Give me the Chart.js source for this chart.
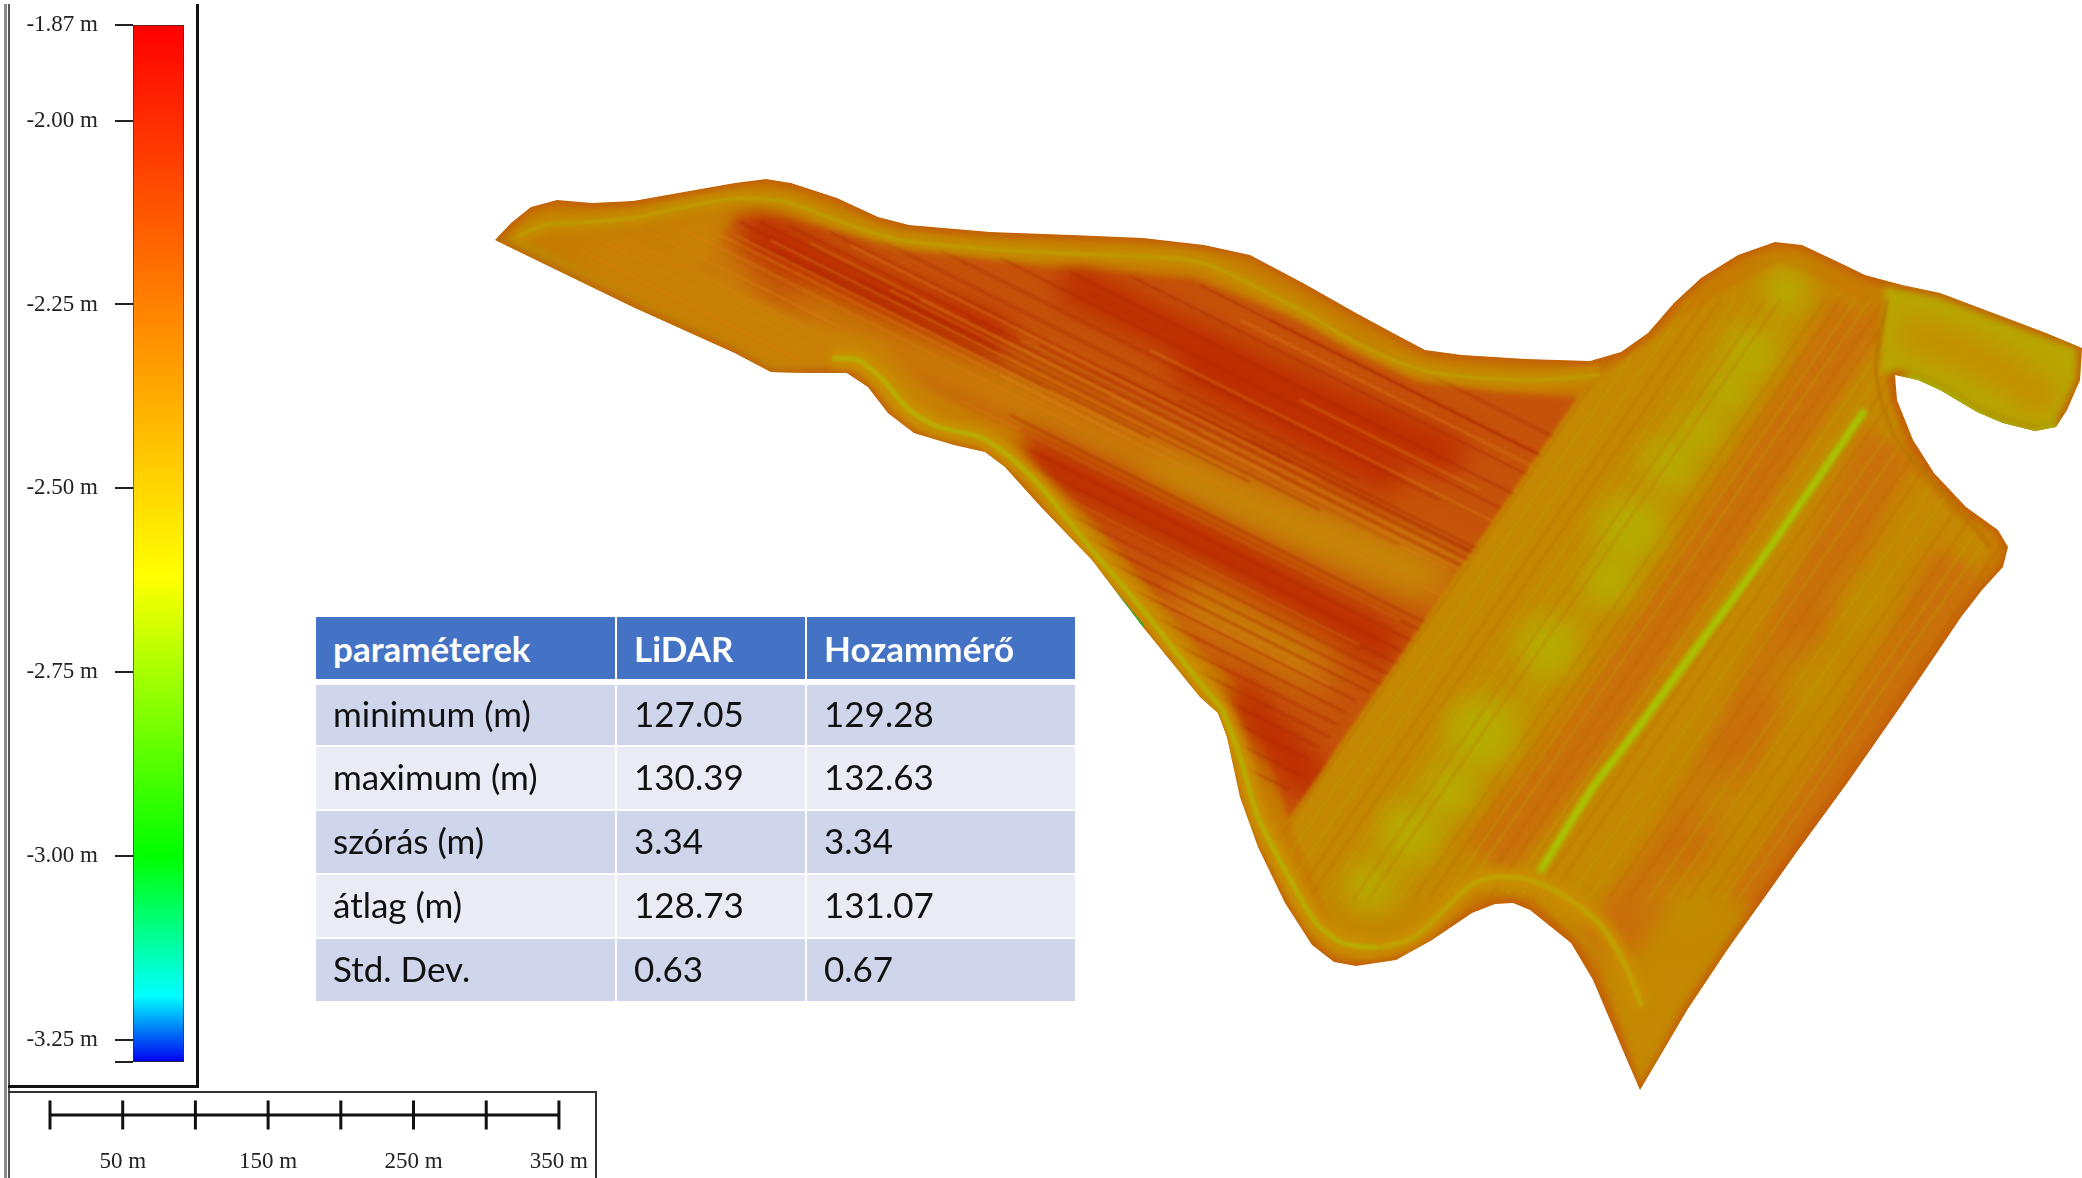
<!DOCTYPE html>
<html>
<head>
<meta charset="utf-8">
<title>LiDAR</title>
<script src="https://cdn.jsdelivr.net/npm/chart.js@4"></script>
<style>
html, body { margin: 0; padding: 0; background: #fff; overflow: hidden; }
body { position: relative; width: 2082px; height: 1178px; }
canvas { position: absolute; }
.line { position: absolute; }
#tabla { position: absolute; left: 314px; top: 615px; width: 761px; table-layout: fixed; border-collapse: collapse;
    font-family: Lato, sans-serif; font-size: 35px; color: #111; }
#tabla td, #tabla th { padding: 0 0 0 17px; border: 2px solid #fff; text-align: left; overflow: hidden; white-space: nowrap; box-sizing: border-box; }
#tabla td { height: 64px; padding-bottom: 4px; }
#tabla th { height: 66px; background: #4472c4; color: #fff; font-weight: 700; border-bottom-width: 6px; }
#tabla tr:nth-child(even) td { background: #e9ebf5; }
#tabla tr:nth-child(odd) td { background: #cfd5ea; }
</style>
</head>
<body>
<div class="line" style="left:4px;top:4px;width:3px;height:1174px;background:#8a8a8a"></div>
<div class="line" style="left:8px;top:4px;width:2px;height:1174px;background:#555"></div>
<div class="line" style="left:196px;top:4px;width:3px;height:1084px;background:#111"></div>
<div class="line" style="left:8px;top:1085px;width:191px;height:3px;background:#111"></div>
<div class="line" style="left:8px;top:1091px;width:589px;height:2px;background:#333"></div>
<div class="line" style="left:595px;top:1091px;width:2px;height:87px;background:#333"></div>
<canvas id="mapa" width="1602" height="950" style="left:480px;top:160px"></canvas>
<canvas id="leyenda" width="190" height="1080" style="left:0;top:0"></canvas>
<canvas id="escala" width="590" height="86" style="left:0;top:1092px"></canvas>
<table id="tabla">
<colgroup><col style="width:301px"><col style="width:190px"><col style="width:270px"></colgroup>
<thead></thead><tbody></tbody>
</table>
<script>
// tabla
const encabezado = ['paraméterek', 'LiDAR', 'Hozammérő'];
const parametros = ['minimum (m)', 'maximum (m)', 'szórás (m)', 'átlag (m)', 'Std. Dev.'];
const lidar = ['127.05', '130.39', '3.34', '128.73', '0.63'];
const hozammero = ['129.28', '132.63', '3.34', '131.07', '0.67'];

// leyenda de color
const alturaMin = -3.28;
const alturaMax = -1.87;
const ticksAltura = [-1.87, -2.00, -2.25, -2.50, -2.75, -3.00, -3.25, -3.28];
const paradasValor = [-1.87, -2.62, -3.00, -3.19, -3.28];
const paradasColor = ['#ff0000', '#ffff00', '#00ff00', '#00ffff', '#0000f0'];

// escala en metros
const marcasEscala = [0, 50, 100, 150, 200, 250, 300, 350];
const etiquetasEscala = [50, 150, 250, 350];

// mapa: coordenadas [x, y] en unidades del plano
const contorno = [[495,240],[511,223],[531,207],[557,200],[592,203],[633,201],[684,192],[735,183],[766,179],[791,183],[837,198],[878,217],[909,225],[990,232],[1072,235],[1143,238],[1204,245],[1250,255],[1303,283],[1356,313],[1393,333],[1425,350],[1462,355],[1526,359],[1590,361],[1621,352],[1648,333],[1674,303],[1701,278],[1738,255],[1775,242],[1802,245],[1834,260],[1865,275],[1902,285],[1940,293],[1993,313],[2046,333],[2082,348],[2080,380],[2067,410],[2056,427],[2035,431],[2003,423],[1977,412],[1940,390],[1918,380],[1895,375],[1897,400],[1913,440],[1934,473],[1966,507],[1998,530],[2008,547],[2003,567],[1982,590],[1961,617],[1934,657],[1900,707],[1847,783],[1798,850],[1727,950],[1687,1010],[1640,1090],[1624,1053],[1593,980],[1571,943],[1530,910],[1513,903],[1495,904],[1472,913],[1432,940],[1396,960],[1356,966],[1334,962],[1312,945],[1285,903],[1258,847],[1240,797],[1227,737],[1218,713],[1200,697],[1143,627],[1092,560],[1041,507],[1005,467],[985,452],[954,445],[914,433],[888,413],[868,387],[847,373],[812,373],[771,372],[735,353],[633,307],[495,240]];
const campoOeste = [[735,217],[786,218],[900,245],[1057,268],[1194,278],[1300,320],[1414,380],[1499,392],[1579,397],[1289,820],[1249,697],[1200,650],[1143,580],[1080,505],[1021,432],[985,417],[924,387],[880,340],[800,320],[700,270]];
const campoEste = [[1579,397],[1640,345],[1700,305],[1780,262],[1860,300],[1890,390],[1910,470],[1990,550],[1960,610],[1640,1090],[1600,960],[1530,895],[1470,890],[1400,945],[1340,945],[1289,820]];
const brazo = [[1885,284],[1940,293],[1993,313],[2046,333],[2082,348],[2080,380],[2067,410],[2056,427],[2035,431],[2003,423],[1977,412],[1940,390],[1918,380],[1880,372]];
const brazoCentro = [[1900,330],[1960,350],[2010,375],[2050,405]];
const brazoBorde = [[1905,378],[1940,393],[1977,416],[2003,427],[2035,435],[2058,428]];
const bandasOscuras = [
    [[744,226],[860,285],[1009,340]],
    [[1062,279],[1250,370],[1461,460]],
    [[1022,451],[1200,540],[1394,651]],
    [[1230,690],[1320,790]],
    [[1180,360],[1400,480]]
];
const bandasClaras = [
    [[800,292],[1100,440],[1461,590]],
    [[598,252],[780,340],[930,425]],
    [[1180,590],[1330,670]],
    [[690,215],[740,300]]
];
const bandaAmarilla = [[1150,470],[1300,530],[1430,580]];
const bordeSuroeste = [[495,240],[633,307],[735,353],[771,372],[847,373]];
const bandasEsteNaranja = [
    [[1860,310],[1701,560],[1595,720],[1486,860]],
    [[1890,440],[1780,660],[1680,850],[1600,950]],
    [[1960,560],[1860,740],[1750,910]]
];
const bandaEsteClara = [[1790,300],[1640,520],[1500,720],[1370,890]];
const lineaVerde = [[1865,410],[1759,563],[1673,680],[1629,740],[1593,787],[1539,873]];
const manchasAmarillas = [[1629,530],[1749,353],[1669,463],[1547,647],[1481,733],[1410,833],[1370,887],[1727,390],[1786,290],[1700,430],[1610,580],[1450,790]];
const radiosManchas = [34,26,26,30,36,30,24,22,22,22,26,26];
const manchasSuaves = [[1800,680],[1720,800],[1680,900],[1860,600]];
const radiosSuaves = [30,28,26,24];
const pista = [[516,237],[546,225],[577,223],[633,218],[684,207],[740,198],[786,202],[850,225],[900,240],[1000,250],[1100,255],[1200,262],[1300,310],[1360,345],[1430,372],[1530,380],[1600,375]];
const pistaSur = [[832,358],[858,360],[883,380],[909,410],[939,427],[980,437],[1005,453],[1041,487],[1092,550],[1143,610],[1200,683],[1222,710],[1240,757],[1258,817],[1285,870],[1316,923],[1343,943],[1379,948]];
const pistaSurEste = [[1379,948],[1414,937],[1468,887],[1495,877],[1530,880],[1566,897],[1602,927],[1629,973],[1642,1007]];
const pistaEste = [[1887,300],[1876,373],[1897,440],[1977,530],[1990,548]];
const bordeVerde = [[1031,500],[1092,565],[1143,627]];
const rayasOscuras = [[740,222,1000,352],[760,222,1110,397],[790,226,1200,431],[830,232,1290,462],[880,240,1360,480],[940,250,1440,500],[1000,258,1500,508],[1070,272,1540,507],[1130,276,1570,496],[1200,285,1580,475],[1270,320,1540,455],[1330,325,1580,450],[1020,430,1450,645],[1040,470,1420,660],[1060,510,1400,680],[1085,550,1370,692],[1110,595,1345,712],[1135,640,1330,737],[1160,685,1310,760],[1190,740,1290,790],[750,240,1050,390],[775,250,1150,437],[810,262,1250,482],[860,280,1320,510],[910,300,1400,545],[970,320,1460,565],[1040,345,1500,575],[1110,372,1520,577],[1180,400,1540,580],[1250,440,1500,565],[1010,415,1460,640],[1030,450,1430,650],[1050,490,1410,670],[1072,530,1385,686],[1098,572,1355,700],[1122,618,1338,725],[1148,662,1318,747],[1175,712,1300,775]];
const rayasClaras = [[550,260,760,365],[600,240,830,355],[650,232,840,327],[700,225,1120,435],[770,240,1240,475],[850,245,1320,480],[920,300,1500,590],[1000,375,1480,615],[960,400,1400,620],[1240,320,1560,480],[1300,400,1480,490],[1050,490,1360,645],[1100,570,1330,685],[580,250,800,360],[620,235,850,350],[680,228,1080,428],[735,235,1180,457],[810,243,1280,478],[890,290,1450,570],[1020,340,1510,585],[1150,350,1550,550]];
const rayasEste = [[1650,300,1238,900],[1690,300,1278,900],[1720,300,1308,900],[1750,300,1338,900],[1780,300,1368,900],[1810,300,1398,900],[1840,300,1428,900],[1870,300,1458,900],[1900,300,1488,900],[1930,300,1518,900],[1960,300,1548,900],[2000,300,1588,900],[2040,300,1628,900],[2080,300,1668,900],[2120,300,1708,900],[2150,300,1738,900],[2190,300,1778,900],[1670,300,1258,900],[1705,300,1293,900],[1735,300,1323,900],[1765,300,1353,900],[1795,300,1383,900],[1825,300,1413,900],[1855,300,1443,900],[1885,300,1473,900],[1915,300,1503,900],[1945,300,1533,900],[1980,300,1568,900],[2020,300,1608,900],[2060,300,1648,900],[2100,300,1688,900],[2135,300,1723,900],[2170,300,1758,900]];

function puntos(lista) { return lista.map(p => ({ x: p[0], y: p[1] })); }
function raya(r) { return [{ x: r[0], y: r[1] }, { x: r[2], y: r[3] }]; }

// capas del mapa, las ultimas quedan encima
const capas = [];
function capa(data, opciones) {
    capas.push(Object.assign({ data: data, borderWidth: 0, borderColor: 'transparent', pointRadius: 0, tension: 0.25, desenfoque: 0, order: -capas.length }, opciones));
}
capa(puntos(contorno), { relleno: '#c67c02' });
capa(puntos(bordeSuroeste), { borderColor: '#b49c00', borderWidth: 16, desenfoque: 5 });
capa(puntos(campoOeste), { relleno: '#c5520a', desenfoque: 3, tension: 0 });
bandasClaras.forEach(b => capa(puntos(b), { borderColor: '#c98208', borderWidth: 50, desenfoque: 20 }));
capa(puntos(bandaAmarilla), { borderColor: 'rgba(195,154,8,0.55)', borderWidth: 30, desenfoque: 16 });
bandasOscuras.forEach(b => capa(puntos(b), { borderColor: '#bd2a00', borderWidth: 38, desenfoque: 14 }));
rayasOscuras.forEach(r => capa(raya(r), { borderColor: 'rgba(170,35,0,0.45)', borderWidth: 2.5, desenfoque: 1, tension: 0 }));
rayasClaras.forEach(r => capa(raya(r), { borderColor: 'rgba(215,125,20,0.48)', borderWidth: 2.5, desenfoque: 1, tension: 0 }));
capa(puntos(campoEste), { relleno: '#c48802', desenfoque: 2, tension: 0 });
bandasEsteNaranja.forEach(b => capa(puntos(b), { borderColor: '#c9700a', borderWidth: 56, desenfoque: 9 }));
capa(puntos(bandaEsteClara), { borderColor: 'rgba(189,154,0,0.7)', borderWidth: 46, desenfoque: 18 });
capa(puntos(manchasAmarillas), { showLine: false, backgroundColor: 'rgba(182,174,0,0.9)', pointBorderWidth: 0, pointRadius: radiosManchas, desenfoque: 12 });
capa(puntos(manchasSuaves), { showLine: false, backgroundColor: 'rgba(190,150,0,0.6)', pointBorderWidth: 0, pointRadius: radiosSuaves, desenfoque: 18 });
rayasEste.forEach((r, i) => capa(raya(r), { borderColor: i % 2 ? 'rgba(185,170,0,0.38)' : 'rgba(190,90,0,0.3)', borderWidth: 2, desenfoque: 1, tension: 0 }));
capa(puntos(lineaVerde), { borderColor: '#a8c400', borderWidth: 8, desenfoque: 2 });
capa(puntos(brazo), { relleno: '#b8a600', desenfoque: 3, tension: 0.2 });
capa(puntos(brazoCentro), { borderColor: '#c48e00', borderWidth: 36, desenfoque: 12 });
capa(puntos(contorno), { borderColor: 'rgba(194,86,10,0.7)', borderWidth: 10, desenfoque: 3 });
capa(puntos(brazoBorde), { borderColor: '#a4bc00', borderWidth: 14, desenfoque: 4 });
capa(puntos(pista), { borderColor: '#c48e00', borderWidth: 14, desenfoque: 4 });
capa(puntos(pistaSur), { borderColor: '#c99000', borderWidth: 20, desenfoque: 4 });
capa(puntos(pistaSurEste), { borderColor: '#c98e00', borderWidth: 18, desenfoque: 5 });
capa(puntos(pistaSur), { borderColor: 'rgba(180,180,0,0.8)', borderWidth: 5, desenfoque: 1 });
capa(puntos(pistaSurEste), { borderColor: 'rgba(190,165,0,0.9)', borderWidth: 5, desenfoque: 1.5 });
capa(puntos(pista), { borderColor: 'rgba(187,168,0,0.6)', borderWidth: 3, desenfoque: 1 });
capa(puntos(pistaEste), { borderColor: 'rgba(185,116,0,0.8)', borderWidth: 4, desenfoque: 1 });
capa(puntos(bordeVerde), { borderColor: '#30b030', borderWidth: 4, desenfoque: 0, tension: 0 });

// recorta al contorno y aplica desenfoque antes de pintar cada capa
const pluginCapas = {
    id: 'capas',
    beforeDatasetDraw(chart, args) {
        const { ctx, scales } = chart;
        const ds = chart.data.datasets[args.index];
        ctx.save();
        ctx.beginPath();
        contorno.forEach((p, i) => {
            const x = scales.x.getPixelForValue(p[0]);
            const y = scales.y.getPixelForValue(p[1]);
            if (i === 0) ctx.moveTo(x, y); else ctx.lineTo(x, y);
        });
        ctx.closePath();
        ctx.clip();
        if (ds.desenfoque) ctx.filter = 'blur(' + ds.desenfoque + 'px)';
        if (ds.relleno) {
            ctx.beginPath();
            args.meta.data.forEach((pt, i) => {
                if (i === 0) ctx.moveTo(pt.x, pt.y); else ctx.lineTo(pt.x, pt.y);
            });
            ctx.closePath();
            ctx.fillStyle = ds.relleno;
            ctx.fill();
        }
    },
    afterDatasetDraw(chart) {
        chart.ctx.restore();
    }
};

new Chart(document.getElementById('mapa'), {
    type: 'line',
    data: { datasets: capas },
    plugins: [pluginCapas],
    options: {
        responsive: false,
        animation: false,
        parsing: false,
        normalized: true,
        layout: { padding: 0, autoPadding: false },
        plugins: { legend: { display: false }, tooltip: { enabled: false } },
        scales: {
            x: { type: 'linear', min: 480, max: 2082, display: false },
            y: { type: 'linear', min: 160, max: 1110, reverse: true, display: false }
        }
    }
});

// leyenda
new Chart(document.getElementById('leyenda'), {
    type: 'bar',
    data: {
        labels: ['altura'],
        datasets: [{
            data: [[alturaMin, alturaMax]],
            barPercentage: 1,
            categoryPercentage: 1,
            borderWidth: 1,
            borderColor: '#3a2a20',
            borderSkipped: false,
            backgroundColor: function(c) {
                const { ctx, scales, chartArea } = c.chart;
                if (!chartArea) return '#ff8000';
                const y0 = scales.y.getPixelForValue(alturaMax);
                const y1 = scales.y.getPixelForValue(alturaMin);
                const grad = ctx.createLinearGradient(0, y0, 0, y1);
                paradasValor.forEach((v, i) => {
                    grad.addColorStop((v - alturaMax) / (alturaMin - alturaMax), paradasColor[i]);
                });
                return grad;
            }
        }]
    },
    options: {
        responsive: false,
        animation: false,
        layout: { padding: { top: 25, bottom: 18, right: 6, left: 0 }, autoPadding: false },
        plugins: { legend: { display: false }, tooltip: { enabled: false } },
        scales: {
            x: { display: false },
            y: {
                min: alturaMin,
                max: alturaMax,
                afterBuildTicks: function(axis) { axis.ticks = ticksAltura.map(v => ({ value: v })); },
                afterFit: function(axis) { axis.width = 133; axis.paddingTop = 0; axis.paddingBottom = 0; },
                border: { display: false },
                grid: { drawOnChartArea: false, color: '#222', tickLength: 18, lineWidth: 2 },
                ticks: {
                    autoSkip: false,
                    padding: 17,
                    color: '#222',
                    font: { family: '"Liberation Serif", serif', size: 23 },
                    callback: function(v) { return v === alturaMin ? '' : v.toFixed(2) + ' m'; }
                }
            }
        }
    }
});

// barra de escala
new Chart(document.getElementById('escala'), {
    type: 'line',
    data: {
        datasets: [
            {
                data: marcasEscala.map(m => ({ x: m, y: 0 })),
                borderColor: '#111',
                borderWidth: 3,
                clip: false,
                tension: 0,
                pointStyle: 'line',
                rotation: 90,
                pointRadius: 14.5,
                pointBorderColor: '#111',
                pointBorderWidth: 3
            }
        ]
    },
    options: {
        responsive: false,
        animation: false,
        parsing: false,
        layout: { padding: { left: 50, right: 22, top: 0, bottom: 0 }, autoPadding: false },
        plugins: { legend: { display: false }, tooltip: { enabled: false } },
        scales: {
            x: {
                type: 'linear',
                min: 0,
                max: 350,
                afterBuildTicks: function(axis) { axis.ticks = marcasEscala.map(v => ({ value: v })); },
                afterFit: function(axis) { axis.height = 40; },
                border: { display: false },
                grid: { display: false },
                ticks: {
                    autoSkip: false,
                    maxRotation: 0,
                    padding: 2,
                    color: '#222',
                    font: { family: '"Liberation Serif", serif', size: 23 },
                    callback: function(v) { return etiquetasEscala.includes(v) ? v + ' m' : ''; }
                }
            },
            y: { type: 'linear', min: -1, max: 1, display: false }
        }
    }
});

// tabla como texto real
const thead = document.querySelector('#tabla thead');
const tbody = document.querySelector('#tabla tbody');
thead.innerHTML = '<tr>' + encabezado.map(t => '<th>' + t + '</th>').join('') + '</tr>';
tbody.innerHTML = parametros.map((p, i) =>
    '<tr><td>' + p + '</td><td>' + lidar[i] + '</td><td>' + hozammero[i] + '</td></tr>'
).join('');
</script>
</body>
</html>
